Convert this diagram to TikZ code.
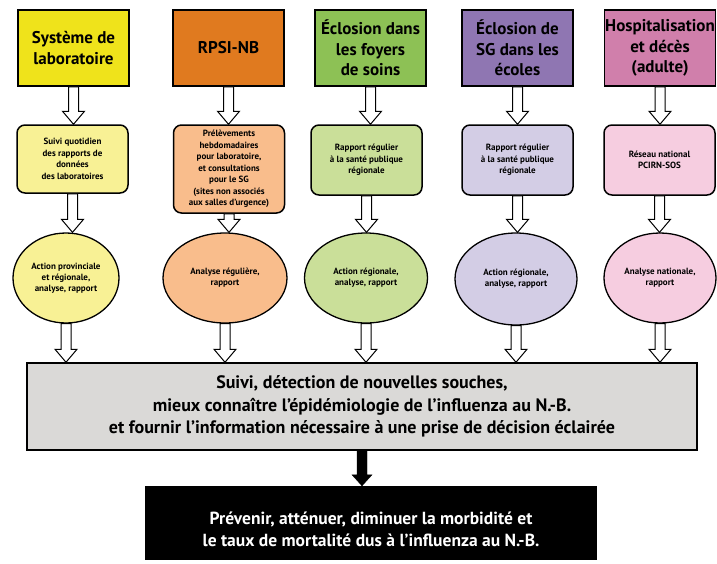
\documentclass[tikz,border=0pt]{standalone}
\usepackage{fontspec}
\setmainfont{PT Sans}
\usetikzlibrary{positioning}
\usetikzlibrary{calc}
\usetikzlibrary{shapes}

\definecolor{labo}{HTML}{EFE31B}
\definecolor{rpsi}{HTML}{E07A1F}
\definecolor{soins}{HTML}{8DC155}
\definecolor{ecole}{HTML}{8F76B2}
\definecolor{hosp}{HTML}{D07FAB}
\definecolor{labol}{HTML}{F8F195}
\definecolor{rpsil}{HTML}{F9BD8C}
\definecolor{soinsl}{HTML}{CADF99}
\definecolor{ecolel}{HTML}{D3CDE5}
\definecolor{hospl}{HTML}{F6CDE0}
\definecolor{suivi}{HTML}{DAD9D7}

\begin{document}
\begin{tikzpicture} [x=1pt,y=-1pt,
            src/.style={draw=black,line width=1.5pt,minimum width=111pt,minimum height=76pt,inner sep=0pt,font=\fontsize{17}{20.5}\selectfont\bfseries},
            info/.style={draw=black,line width=1.5pt,rounded corners=8pt,minimum width=111pt,inner sep=0pt,font=\fontsize{9}{11.5}\selectfont\bfseries},
            act/.style={draw=black,line width=1.3pt,ellipse,inner sep=0pt,minimum height=90pt,font=\fontsize{9}{11}\selectfont\bfseries},
            hollow/.style={draw=black,fill=white,line width=1pt,
              to path={let \p1=(\tikztostart.south), \p2=(\tikztotarget) in
                (\x1-5pt,\y1) -- (\x1-5pt,\y2+13pt) -- (\x1-11pt,\y2+13pt) -- (\x1,\y2)
                -- (\x1+11pt,\y2+13pt) -- (\x1+5pt,\y2+13pt) -- (\x1+5pt,\y1) -- cycle}},
         every node/.append style={align=center}]
\useasboundingbox (0,0) rectangle (717,563);

%sources
\node (s1) at (73.5,48) [src,fill=labo] {Système de\\laboratoire};
\node (s2) at (228.5,48) [src,fill=rpsi] {RPSI-NB};
\node (s3) at (370.5,48) [src,fill=soins] {Éclosion dans\\les foyers\\de soins};
\node (s4) at (517.5,48) [src,fill=ecole] {Éclosion de\\SG dans les\\écoles};
\node (s5) at (660,48) [src,fill=hosp] {Hospitalisation\\et décès\\(adulte)};

%collecte
\node (c1) at (72.5,159) [info,fill=labol,minimum height=68pt] {Suivi quotidien\\des rapports de\\données\\des laboratoires};
\node (c2) at (229,169) [info,fill=rpsil,minimum height=88pt] {Prélèvements\\hebdomadaires\\pour laboratoire,\\et consultations\\pour le SG\\(sites non associés\\aux salles d’urgence)};
\node (c3) at (366.5,160) [info,fill=soinsl,minimum height=70pt] {Rapport régulier\\à la santé publique\\régionale};
\node (c4) at (517.5,160) [info,fill=ecolel,minimum height=70pt] {Rapport régulier\\à la santé publique\\régionale};
\node (c5) at (659.5,160) [info,fill=hospl,minimum height=70pt] {Réseau national\\PCIRN-SOS};

%actions
\node (a1) at (66,278) [act,fill=labol,minimum width=106pt] {Action provinciale\\et régionale,\\analyse, rapport};
\node (a2) at (225,278) [act,fill=rpsil,minimum width=124pt] {Analyse régulière,\\rapport};
\node (a3) at (366,278) [act,fill=soinsl,minimum width=123pt] {Action régionale,\\analyse, rapport};
\node (a4) at (516,279) [act,fill=ecolel,minimum width=122pt,minimum height=92pt] {Action régionale,\\analyse, rapport};
\node (a5) at (660,278) [act,fill=hospl,minimum width=112pt] {Analyse nationale,\\rapport};

%but
\node (suivi) at (362,406.5) [draw=black,line width=1.5pt,fill=suivi,minimum width=670pt,minimum height=87pt,inner sep=0pt,font=\fontsize{18}{22.5}\selectfont\bfseries] {Suivi, détection de nouvelles souches,\\mieux connaître l’épidémiologie de l’influenza au N.-B.\\et fournir l’information nécessaire à une prise de décision éclairée};
\node (prev) at (371,523) [fill=black,minimum width=452pt,minimum height=74pt,inner sep=0pt,
   label={[text=white,yshift=-6pt,font=\fontsize{17.5}{22}\selectfont\bfseries]center:{Prévenir, atténuer, diminuer la morbidité et\\le taux de mortalité dus à l’influenza au N.-B.}}] {};

%fleches
\foreach \i in {1,...,5} {
  \draw [hollow] (s\i) to (c\i.north);
  \draw [hollow] (c\i) to (a\i.north);
  \draw [hollow] (a\i) to (suivi.north -| a\i);
}
\draw [fill=black] let \p1=(suivi.south), \p2=(prev.north) in
  (\x1-5pt,\y1) -- (\x1-5pt,\y2+11pt) -- (\x1-10pt,\y2+11pt) -- (\x1,\y2)
  -- (\x1+10pt,\y2+11pt) -- (\x1+5pt,\y2+11pt) -- (\x1+5pt,\y1) -- cycle;

\end{tikzpicture}
\end{document}
